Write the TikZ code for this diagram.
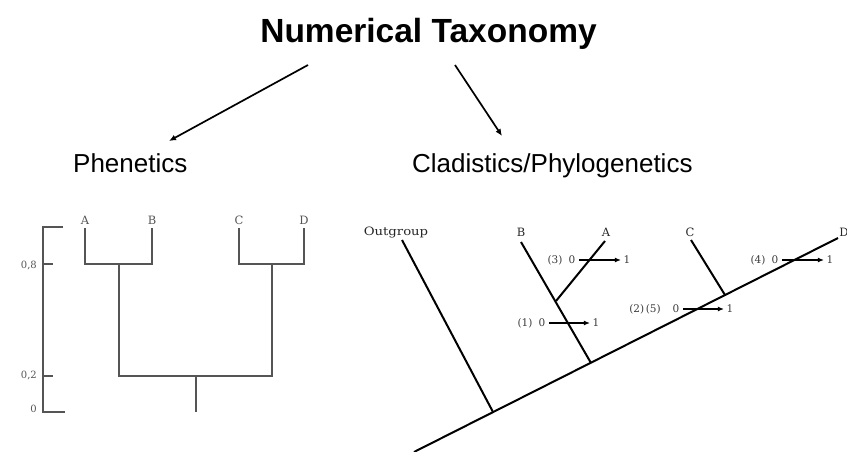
\documentclass[tikz,border=0pt]{standalone}
\usepackage{fontspec}
\setmainfont{Liberation Sans}
\newfontfamily\lblfont{DejaVu Serif}
\usetikzlibrary{arrows.meta}
\definecolor{dendro}{HTML}{555555}
\definecolor{annot}{HTML}{3A3A3A}
\tikzset{
  titletext/.style={font=\fontsize{33.5}{36}\selectfont\bfseries, inner sep=0pt, anchor=base},
  headtext/.style={font=\fontsize{26}{30}\selectfont, inner sep=0pt, anchor=base west},
  bigarrow/.style={line width=1.7pt, -{Latex[length=7pt,width=6pt]}},
  dline/.style={draw=dendro, line width=1.8pt},
  leaflbl/.style={font=\lblfont\fontsize{11.5}{12}\selectfont, text=dendro, inner sep=0pt},
  scalelbl/.style={font=\lblfont\fontsize{10}{12}\selectfont, text=dendro, inner sep=0pt, anchor=east},
  cline/.style={draw=black, line width=2pt},
  cladlbl/.style={font=\lblfont\fontsize{11.5}{12}\selectfont, text=black!85, inner sep=0pt},
  anntext/.style={font=\lblfont\fontsize{10.5}{12}\selectfont, text=annot, inner sep=0pt},
  annarrow/.style={line width=1.2pt, -{Latex[length=6pt,width=5pt]}, shorten <=3.5pt, shorten >=2.5pt},
}
\begin{document}
\begin{tikzpicture}[x=1pt,y=-1pt]
\useasboundingbox (0,0) rectangle (847,452);
% titles
\node[titletext] (title) at (428.5,43) {Numerical Taxonomy};
\node[headtext] (phen) at (73,172) {Phenetics};
\node[headtext] (clad) at (412,172) {Cladistics/Phylogenetics};
\coordinate (tl) at (308,65);
\coordinate (pl) at (169,141);
\coordinate (tr) at (455,65);
\coordinate (pr) at (502,136);
\draw[bigarrow] (tl) -- (pl);
\draw[bigarrow] (tr) -- (pr);

% ---------- phenetic dendrogram ----------
\coordinate (sTop) at (43,227);
\coordinate (sBot) at (43,412);
\draw[dline] (63,227) -- (sTop) -- (sBot) -- (65,412);
\draw[dline] (43,264) -- (53,264);
\draw[dline] (43,376) -- (53,376);
\node[scalelbl] (s08) at (37,265) {0,8};
\node[scalelbl] (s02) at (37,375) {0,2};
\node[scalelbl] (s00) at (37,409) {0};

\node[leaflbl] (A) at (85,220) {A};
\node[leaflbl] (B) at (152,220) {B};
\node[leaflbl] (C) at (239,220) {C};
\node[leaflbl] (D) at (304,220) {D};
\coordinate (ab) at (119,264);
\coordinate (cd) at (272,264);
\coordinate (root) at (196,376);
\draw[dline] (85,228) -- (85,264) -- (152,264) -- (152,228);
\draw[dline] (239,228) -- (239,264) -- (304,264) -- (304,228);
\draw[dline] (ab) -- (119,376) -- (272,376) -- (cd);
\draw[dline] (root) -- (196,412);

% ---------- cladogram ----------
\coordinate (base) at (414,452);
\coordinate (tipD) at (838,238);
\coordinate (jO) at (493,412);
\coordinate (jB) at (591,363);
\coordinate (jC) at (725,295);
\coordinate (jA) at (556,301);
\draw[cline] (base) -- (tipD);
\node[cladlbl] (og) at (396,233) {\scalebox{1.15}[1]{Outgroup}};
\node[cladlbl] (lB) at (521,232) {B};
\node[cladlbl] (lA) at (606,232) {A};
\node[cladlbl] (lC) at (690,232) {C};
\node[cladlbl] (lD) at (844,232) {D};
\draw[cline] (402,240) -- (jO);
\draw[cline] (521,242) -- (jB);
\draw[cline] (605,241) -- (jA);
\draw[cline] (691,240) -- (jC);

% character-state changes
\node[anntext] (c3) at (555,260) {(3)};
\node[anntext] (c3a) at (572,260) {0};
\node[anntext] (c3b) at (627,260) {1};
\draw[annarrow] (c3a) -- (c3b);

\node[anntext] (c1) at (525,323) {(1)};
\node[anntext] (c1a) at (542,323) {0};
\node[anntext] (c1b) at (596,323) {1};
\draw[annarrow] (c1a) -- (c1b);

\node[anntext] (c25) at (645,309) {(2)\,(5)};
\node[anntext] (c25a) at (676,309) {0};
\node[anntext] (c25b) at (730,309) {1};
\draw[annarrow] (c25a) -- (c25b);

\node[anntext] (c4) at (758,260) {(4)};
\node[anntext] (c4a) at (775,260) {0};
\node[anntext] (c4b) at (830,260) {1};
\draw[annarrow] (c4a) -- (c4b);
\end{tikzpicture}
\end{document}
